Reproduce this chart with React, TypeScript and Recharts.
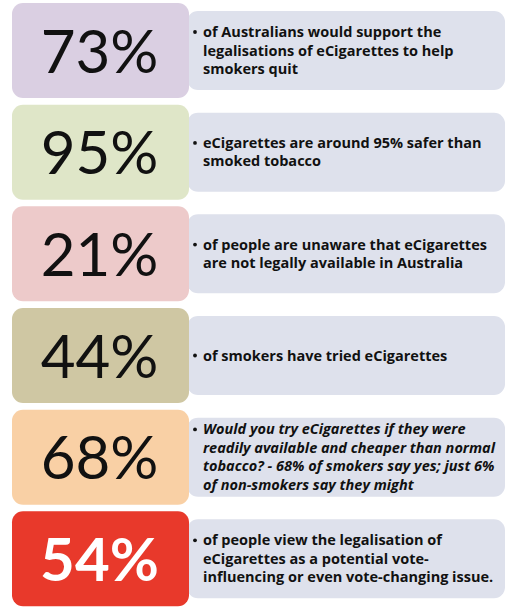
import { BarChart, Bar, XAxis, YAxis } from "recharts";

// headline figures, top to bottom
const percents = [73, 95, 21, 44, 68, 54];

// caption lines as broken in the original
const captions = [
  ["of Australians would support the", "legalisations of eCigarettes to help", "smokers quit"],
  ["eCigarettes are around 95% safer than", "smoked tobacco"],
  ["of people are unaware that eCigarettes", "are not legally available in Australia"],
  ["of smokers have tried eCigarettes"],
  [
    "Would you try eCigarettes if they were",
    "readily available and cheaper than normal",
    "tobacco? - 68% of smokers say yes; just 6%",
    "of non-smokers say they might",
  ],
  ["of people view the legalisation of", "eCigarettes as a potential vote-", "influencing or even vote-changing issue."],
];

const italicRow = [false, false, false, false, true, false];

const panelColors = ["#dacfe2", "#dfe6c8", "#edcaca", "#cfc7a3", "#f9d0a5", "#e8392b"];
const numberColors = ["#111", "#111", "#111", "#111", "#111", "#ffffff"];
const captionBg = "#dee1ec";

const data = percents.map((p, i) => ({
  row: i,
  value: p,
  label: `${p}%`,
  lines: captions[i],
  italic: italicRow[i],
}));

const LEFT_W = 177;
const NUM_FONT = "Lato, 'Open Sans', sans-serif";
const CAP_FONT = "'Open Sans', Lato, sans-serif";

const Panel = (props: any) => {
  const { x, y, height, payload, index } = props;
  const plotW = 493;
  const cy = y + height / 2;
  const rx = x + LEFT_W - 2;
  const rw = plotW - LEFT_W + 2;
  const lines: string[] = payload.lines;
  const lh = 18.5;
  const firstBase = cy - ((lines.length - 1) * lh) / 2 + 5;
  const bold = index === 5;
  return (
    <g>
      <rect x={rx} y={y + 8} width={rw} height={height - 16} rx={11} fill={captionBg} />
      <rect x={x} y={y} width={LEFT_W} height={height} rx={11} fill={panelColors[index]} />
      <text
        x={x + LEFT_W / 2 - 1}
        y={cy + 22}
        textAnchor="middle"
        fontFamily={NUM_FONT}
        fontSize={60}
        fontWeight={bold ? 700 : 400}
        fill={numberColors[index]}
      >
        {payload.label}
      </text>
      <circle cx={rx + 8} cy={firstBase - 5} r={1.9} fill="#111" />
      <text
        fontFamily={CAP_FONT}
        fontSize={14.5}
        fontWeight={700}
        fontStyle={payload.italic ? "italic" : "normal"}
        fill="#111"
      >
        {lines.map((l, i) => (
          <tspan key={i} x={rx + 16} y={firstBase + i * lh}>
            {l}
          </tspan>
        ))}
      </text>
    </g>
  );
};

export default function App() {
  return (
    <div style={{ position: "absolute", left: 0, top: 0, background: "#fff" }}>
      <BarChart
        width={508}
        height={614}
        data={data}
        layout="vertical"
        margin={{ top: 0, right: 3, bottom: 4, left: 12 }}
        barSize={95}
      >
        <XAxis type="number" domain={[0, 100]} hide />
        <YAxis type="category" dataKey="row" hide />
        <Bar dataKey="value" shape={<Panel />} isAnimationActive={false} />
      </BarChart>
    </div>
  );
}
